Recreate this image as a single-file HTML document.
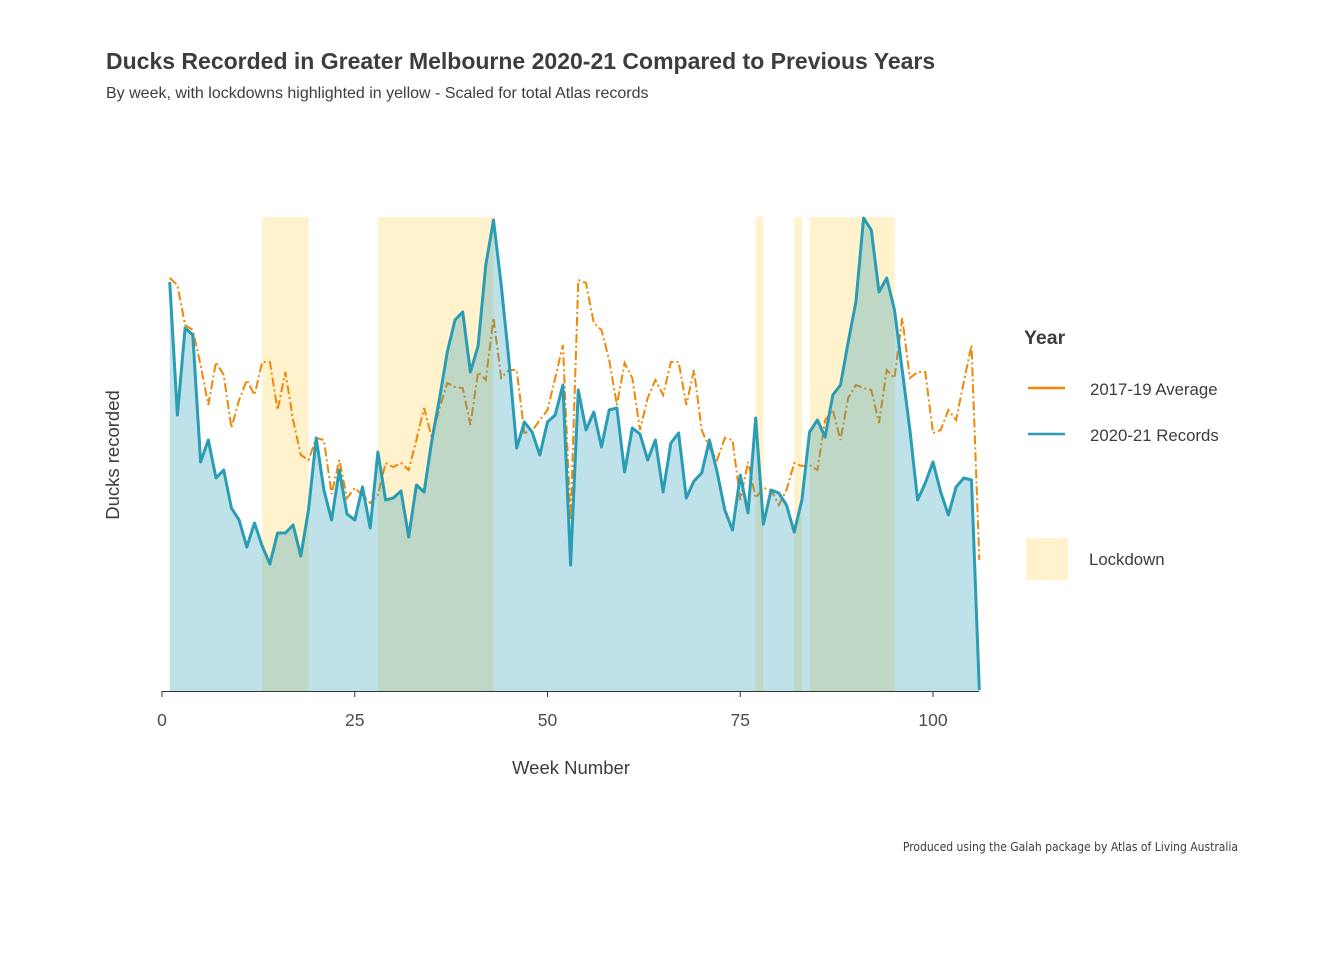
<!DOCTYPE html>
<html><head><meta charset="utf-8"><style>
body{margin:0;background:#fff;}
svg text{font-family:"Liberation Sans",sans-serif;}
</style></head><body>
<svg id="chart" width="1344" height="960" viewBox="0 0 1344 960" xmlns="http://www.w3.org/2000/svg">
<text x="106" y="69" font-size="23" font-weight="bold" fill="#3d3d3d">Ducks Recorded in Greater Melbourne 2020-21 Compared to Previous Years</text>
<text x="106" y="98" font-size="16" fill="#3d3d3d">By week, with lockdowns highlighted in yellow - Scaled for total Atlas records</text>
<g id="plot"></g>
<text transform="translate(119,455) rotate(-90)" text-anchor="middle" font-size="18.5" fill="#3d3d3d">Ducks recorded</text>
<text x="571" y="774" text-anchor="middle" font-size="18.5" fill="#3d3d3d">Week Number</text>
<g>
<text x="1024" y="344" font-size="19.5" font-weight="bold" fill="#3d3d3d">Year</text>
<line x1="1028" y1="388" x2="1065" y2="388" stroke="#F28705" stroke-width="2.5"/>
<text x="1090" y="395" font-size="16.8" fill="#3d3d3d">2017-19 Average</text>
<line x1="1028" y1="434" x2="1065" y2="434" stroke="#2A9DB5" stroke-width="2.5"/>
<text x="1090" y="441" font-size="16.8" fill="#3d3d3d">2020-21 Records</text>
<rect x="1026" y="538" width="42" height="42" fill="#FFF2CC"/>
<text x="1089" y="565" font-size="16.8" fill="#3d3d3d">Lockdown</text>
</g>
<text x="1238" y="851" text-anchor="end" font-size="12" fill="#3d3d3d" style="font-family:'DejaVu Sans Condensed','Liberation Sans Narrow',sans-serif">Produced using the Galah package by Atlas of Living Australia</text>
</svg>
<script>
const weeks = Array.from({length:106},(_,i)=>i+1);
const records2021 = [409,276,363,356,229,251,213,221,183,171,144,168,145,127,158,158,166,135,181,253,201,171,221,177,171,204,163,239,191,193,200,154,206,199,251,293,339,371,379,319,345,426,471,406,331,243,269,259,236,269,276,306,126,301,261,279,244,281,283,219,263,257,231,251,199,248,258,193,210,218,251,219,181,161,216,178,273,167,201,198,186,159,191,259,271,254,296,306,349,389,473,461,399,413,381,321,261,191,208,229,199,176,204,213,211,1];
const average1719 = [413,406,366,361,326,286,329,316,263,291,311,296,329,329,281,319,271,236,231,253,251,197,231,193,203,196,188,196,228,224,228,221,251,283,253,283,308,304,303,266,319,311,373,313,321,321,258,260,271,281,313,346,171,411,408,368,361,331,286,328,313,261,293,311,296,329,329,286,321,261,243,231,253,251,191,229,193,203,201,186,201,228,225,226,221,271,281,251,293,306,303,301,268,321,313,373,313,319,319,258,261,281,271,309,346,131];
const lockStart = [13,28,77,82,84];
const lockEnd = [19,43,78,83,95];
const xTicks = [0,25,50,75,100];

const NS="http://www.w3.org/2000/svg";
const X0=162, PX=7.71, YB=691, YT=217, VMAX=474;
const xs = w => X0 + w*PX;
const ys = v => YB - (v/VMAX)*(YB-YT);
const plot=document.getElementById('plot');
function mk(tag, attrs){const e=document.createElementNS(NS,tag);for(const k in attrs)e.setAttribute(k,attrs[k]);plot.appendChild(e);return e;}

lockStart.forEach((s,i)=>{
  const r=mk('rect',{x:xs(s),y:YT,width:xs(lockEnd[i])-xs(s),height:YB-YT,fill:'#FFF2CC'});
  
  
});
const pts = arr => arr.map((v,i)=>xs(weeks[i]).toFixed(1)+','+ys(v).toFixed(1)).join(' ');
const avg=mk('polyline',{points:pts(average1719),fill:'none',stroke:'#F28705','stroke-width':2,'stroke-dasharray':'9,3,2,3'});


const areaPts = xs(weeks[0])+','+YB+' '+pts(records2021)+' '+xs(weeks[weeks.length-1])+','+YB;
const area=mk('polygon',{points:areaPts,fill:'#2A9DB5','fill-opacity':0.3});


const rec=mk('polyline',{points:pts(records2021),fill:'none',stroke:'#2A9DB5','stroke-width':3,'stroke-linejoin':'round'});


const ax=mk('line',{x1:X0,y1:YB+0.5,x2:xs(106),y2:YB+0.5,stroke:'#333','stroke-width':1});


xTicks.forEach(t=>{
  const tk=mk('line',{x1:xs(t),y1:YB,x2:xs(t),y2:YB+6,stroke:'#333','stroke-width':1});
  
  
  const lb=mk('text',{x:xs(t),y:YB+35,'text-anchor':'middle','font-size':17.5,fill:'#4d4d4d'});
  lb.textContent=t;
  
  
});
</script>
</body></html>
